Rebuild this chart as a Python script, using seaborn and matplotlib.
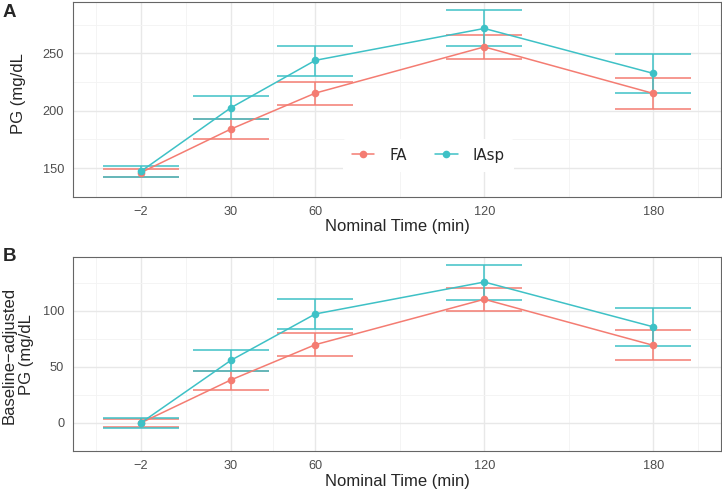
import pandas as pd
import matplotlib
matplotlib.use("Agg")
import matplotlib.pyplot as plt
import seaborn as sns

sns.set_style("white")
plt.rcParams['font.family'] = ['Liberation Sans', 'DejaVu Sans']

# datos
tiempo = [-2, 30, 60, 120, 180]
grupos = ['FA', 'IAsp']
colores = {'FA': '#F47C72', 'IAsp': '#3EC1C6'}

pg_fa = [146.0, 184.0, 215.4, 255.7, 215.1]
pg_fa_inf = [142.5, 175.6, 205.0, 245.4, 201.5]
pg_fa_sup = [149.5, 192.5, 225.5, 266.0, 228.5]
pg_iasp = [147.0, 202.6, 244.0, 271.8, 232.6]
pg_iasp_inf = [142.0, 192.5, 230.4, 256.3, 215.7]
pg_iasp_sup = [152.0, 212.7, 256.8, 287.6, 249.2]

aj_fa = [0.0, 38.4, 69.9, 110.4, 69.3]
aj_fa_inf = [-3.8, 29.6, 59.5, 99.7, 56.2]
aj_fa_sup = [3.6, 46.3, 80.3, 120.5, 82.7]
aj_iasp = [0.0, 55.9, 97.3, 125.8, 85.8]
aj_iasp_inf = [-4.9, 46.0, 84.1, 109.9, 69.0]
aj_iasp_sup = [4.7, 65.5, 110.4, 141.1, 102.5]

ancho_barra = 27
W, H = 722, 496


def armar_df(fa, fa_inf, fa_sup, iasp, iasp_inf, iasp_sup):
    df_fa = pd.DataFrame({'Tiempo': tiempo, 'Valor': fa, 'Inf': fa_inf,
                          'Sup': fa_sup, 'Grupo': 'FA'})
    df_iasp = pd.DataFrame({'Tiempo': tiempo, 'Valor': iasp, 'Inf': iasp_inf,
                            'Sup': iasp_sup, 'Grupo': 'IAsp'})
    return pd.concat([df_fa, df_iasp], ignore_index=True)


def caja(izq, arriba, der, abajo):
    return [izq / W, 1 - abajo / H, (der - izq) / W, (abajo - arriba) / H]


def plottear(ax, df, yticks, leyenda=False):
    for grupo in grupos:
        d = df[df['Grupo'] == grupo]
        ax.vlines(d['Tiempo'], d['Inf'], d['Sup'], color=colores[grupo], lw=1.1, zorder=3)
        ax.hlines(d['Inf'], d['Tiempo'] - ancho_barra / 2, d['Tiempo'] + ancho_barra / 2,
                  color=colores[grupo], lw=1.1, zorder=3)
        ax.hlines(d['Sup'], d['Tiempo'] - ancho_barra / 2, d['Tiempo'] + ancho_barra / 2,
                  color=colores[grupo], lw=1.1, zorder=3)
    sns.lineplot(data=df, x='Tiempo', y='Valor', hue='Grupo', palette=colores,
                 marker='o', markersize=5.5, markeredgewidth=0, linewidth=1.1,
                 ax=ax, legend=leyenda, zorder=4)

    # limites con expansion de 5% como ggplot
    xmin, xmax = min(tiempo) - ancho_barra / 2, max(tiempo) + ancho_barra / 2
    ymin, ymax = df['Inf'].min(), df['Sup'].max()
    ax.set_xlim(xmin - 0.05 * (xmax - xmin), xmax + 0.05 * (xmax - xmin))
    ax.set_ylim(ymin - 0.05 * (ymax - ymin), ymax + 0.05 * (ymax - ymin))

    ax.set_xticks(tiempo)
    ax.set_xticklabels([str(t).replace('-', '\u2212') for t in tiempo])
    ax.set_xticks([-18, 14, 45, 90, 150, 196], minor=True)
    ax.set_yticks(yticks)
    paso = yticks[1] - yticks[0]
    ax.set_yticks([t - paso / 2 for t in yticks] + [yticks[-1] + paso / 2], minor=True)
    ax.grid(which='major', color='#E8E8E8', lw=1.0, zorder=0)
    ax.grid(which='minor', color='#F3F3F3', lw=0.6, zorder=0)
    ax.set_axisbelow(True)
    ax.tick_params(which='major', length=3.6, width=0.8, color='#333333',
                   labelsize=9.2, labelcolor='#4D4D4D', pad=3)
    ax.tick_params(which='minor', length=0)
    for s in ax.spines.values():
        s.set_color('#666666')
        s.set_linewidth(0.8)
    ax.set_xlabel('Nominal Time (min)', fontsize=12, labelpad=1)
    ax.set_ylabel('')


df_pg = armar_df(pg_fa, pg_fa_inf, pg_fa_sup, pg_iasp, pg_iasp_inf, pg_iasp_sup)
df_aj = armar_df(aj_fa, aj_fa_inf, aj_fa_sup, aj_iasp, aj_iasp_inf, aj_iasp_sup)

fig = plt.figure(figsize=(W / 100, H / 100), dpi=100)
ax_a = fig.add_axes(caja(73.3, 2, 720.7, 196.7))
ax_b = fig.add_axes(caja(73.3, 256.7, 720.7, 451))

plottear(ax_a, df_pg, [150, 200, 250], leyenda=True)
plottear(ax_b, df_aj, [0, 50, 100])

handles, labels = ax_a.get_legend_handles_labels()
ax_a.legend(handles, labels, ncol=2, loc='center', bbox_to_anchor=(0.548, 0.214),
            frameon=True, facecolor='white', edgecolor='none', framealpha=1,
            prop={'family': 'DejaVu Sans', 'size': 10.8}, handlelength=1.5,
            handletextpad=1.0, columnspacing=1.9, borderpad=0.6)

fig.text(19 / W, 1 - 94 / H, 'PG (mg/dL', rotation=90, ha='center', va='center', fontsize=12)
fig.text(18 / W, 1 - 355 / H, 'Baseline\u2212adjusted\nPG (mg/dL', rotation=90,
         ha='center', va='center', fontsize=12, linespacing=1.25, multialignment='center')
fig.text(9 / W, 1 - 12.5 / H, 'A', ha='center', va='center', fontsize=13.5, fontweight='bold')
fig.text(9 / W, 1 - 256.5 / H, 'B', ha='center', va='center', fontsize=13.5, fontweight='bold')

fig.savefig('out.png', dpi=100)
